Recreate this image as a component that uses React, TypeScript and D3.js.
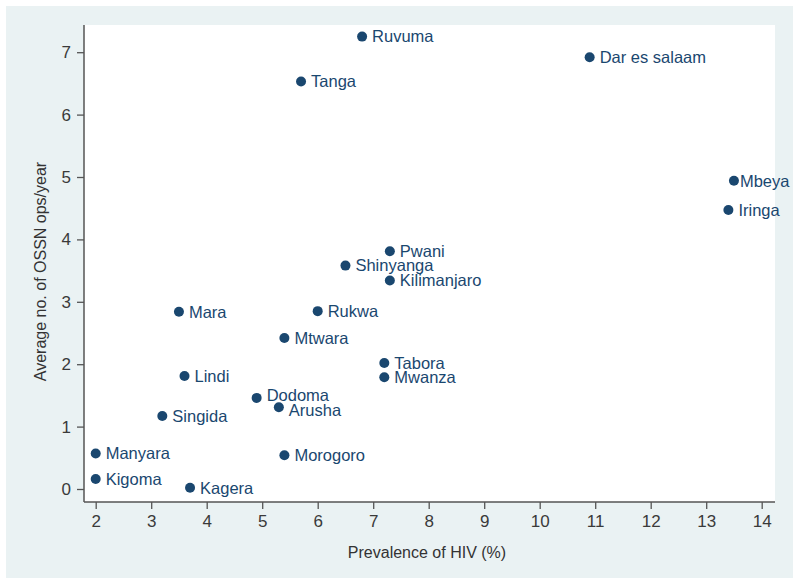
import * as React from 'react';
import * as d3 from 'd3';

// regions of Tanzania
const regions = ['Ruvuma', 'Dar es salaam', 'Tanga', 'Mbeya', 'Iringa', 'Pwani', 'Shinyanga', 'Kilimanjaro',
  'Mara', 'Rukwa', 'Mtwara', 'Tabora', 'Mwanza', 'Lindi', 'Dodoma', 'Arusha', 'Singida', 'Manyara',
  'Morogoro', 'Kigoma', 'Kagera'];
const hivPrevalence = [6.8, 10.9, 5.7, 13.5, 13.4, 7.3, 6.5, 7.3, 3.5, 6.0, 5.4, 7.2, 7.2, 3.6, 4.9, 5.3, 3.2, 2.0, 5.4, 2.0, 3.7];
const ossnOps = [7.25, 6.92, 6.53, 4.94, 4.47, 3.81, 3.58, 3.34, 2.84, 2.85, 2.42, 2.02, 1.79, 1.81, 1.46, 1.31, 1.17, 0.57, 0.54, 0.16, 0.02];
const xTicks = [2, 3, 4, 5, 6, 7, 8, 9, 10, 11, 12, 13, 14];
const yTicks = [0, 1, 2, 3, 4, 5, 6, 7];

const W = 800;
const H = 585;
const plot = { left: 84, right: 775, top: 25, bottom: 502 };
const navy = '#1a476f';
const font = 'Liberation Sans, Arial, sans-serif';

// small label nudges (px) where the reference shifts labels apart
const labelDy: Record<string, number> = { Dodoma: -3, Arusha: 3 };

export default function App() {
  const xAxisRef = React.useRef<SVGGElement>(null);
  const yAxisRef = React.useRef<SVGGElement>(null);

  const x = d3.scaleLinear().domain([2, 14]).range([95.7, 761.7]);
  const y = d3.scaleLinear().domain([0, 7]).range([489, 52.2]);

  React.useEffect(() => {
    const xa = d3.select(xAxisRef.current);
    xa.selectAll('*').remove();
    xa.call(d3.axisBottom(x).tickValues(xTicks).tickSize(7).tickPadding(6).tickFormat(d3.format('d')));
    const ya = d3.select(yAxisRef.current);
    ya.selectAll('*').remove();
    ya.call(d3.axisLeft(y).tickValues(yTicks).tickSize(7).tickPadding(6).tickFormat(d3.format('d')));

    [xa, ya].forEach((g) => {
      g.select('.domain').remove();
      g.selectAll('line').attr('stroke', '#555').attr('stroke-width', 1.3);
      g.selectAll('text').attr('fill', '#3a3a3a').style('font-size', '17px').style('font-family', font);
    });
  }, []);

  const pts = regions.map((r, i) => ({ name: r, hiv: hivPrevalence[i], ops: ossnOps[i] }));

  return (
    <svg width={W} height={H} style={{ position: 'absolute', left: 0, top: 0 }}>
      <rect x={0} y={0} width={W} height={H} fill="#fff" />
      <rect x={6} y={6} width={787} height={572} fill="#eaf2f3" />
      <rect x={plot.left} y={plot.top} width={plot.right - plot.left} height={plot.bottom - plot.top} fill="#fff" />
      <g>
        {pts.map((p) => (
          <g key={p.name}>
            <circle cx={x(p.hiv)} cy={y(p.ops)} r={5} fill={navy} />
            <text x={x(p.hiv) + (p.name === 'Mbeya' ? 6 : 10)} y={y(p.ops) + (labelDy[p.name] || 0)} dy="0.35em" fill={navy}
              style={{ fontSize: '16.5px', fontFamily: font }}>{p.name}</text>
          </g>
        ))}
      </g>
      <line x1={plot.left} x2={plot.left} y1={plot.top} y2={plot.bottom} stroke="#555" strokeWidth={1.5} />
      <line x1={plot.left} x2={plot.right} y1={plot.bottom} y2={plot.bottom} stroke="#555" strokeWidth={1.5} />
      <g ref={xAxisRef} transform={`translate(0, ${plot.bottom})`} />
      <g ref={yAxisRef} transform={`translate(${plot.left}, 0)`} />
      <text x={427} y={552} dy="0.35em" textAnchor="middle" fill="#333"
        style={{ fontSize: '16px', fontFamily: font }}>Prevalence of HIV (%)</text>
      <text transform={`translate(40, ${(plot.top + plot.bottom) / 2 + 8}) rotate(-90)`} dy="0.35em" textAnchor="middle" fill="#333"
        style={{ fontSize: '16px', fontFamily: font }}>Average no. of OSSN ops/year</text>
    </svg>
  );
}
